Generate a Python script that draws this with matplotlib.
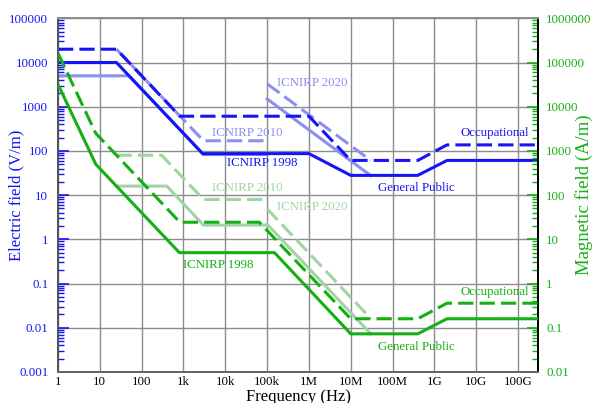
import matplotlib
matplotlib.use("Agg")
import matplotlib.pyplot as plt
from matplotlib.ticker import LogLocator, FixedLocator, FuncFormatter, NullFormatter

plt.rcParams['font.family'] = ['Liberation Serif', 'DejaVu Serif']

# ---------------- data (breakpoints) ----------------
x_ticks = [1, 10, 100, 1e3, 1e4, 1e5, 1e6, 1e7, 1e8, 1e9, 1e10, 1e11]
x_ticklabels = ["1", "10", "100", "1k", "10k", "100k", "1M", "10M", "100M", "1G", "10G", "100G"]

# Electric field (V/m), left axis
e1998_pub_f = [1, 25, 2870, 1e6, 1e7, 4e8, 2e9, 3e11]
e1998_pub_v = [10000, 10000, 87, 87, 28, 28, 61, 61]
e1998_occ_f = [1, 25, 820, 1e6, 1e7, 4e8, 2e9, 3e11]
e1998_occ_v = [20000, 20000, 610, 610, 61, 61, 137, 137]
e2010_pub_f = [1, 50, 3000, 1e5]
e2010_pub_v = [5000, 5000, 83, 83]
e2010_occ_f = [25, 3000, 1e5]
e2010_occ_v = [20000, 170, 170]
e2020_pub_f = [1e5, 3e7]
e2020_pub_v = [1500, 27.7]
e2020_occ_f = [1e5, 3e7]
e2020_occ_v = [3300, 61]

# Magnetic field (A/m), right axis
h1998_pub_f = [1, 8, 800, 1.5e5, 1e7, 4e8, 2e9, 3e11]
h1998_pub_v = [32000, 500, 5, 5, 0.073, 0.073, 0.16, 0.16]
h1998_occ_f = [1, 8, 820, 6.5e4, 1e7, 4e8, 2e9, 3e11]
h1998_occ_v = [163000, 2500, 24.4, 24.4, 0.16, 0.16, 0.36, 0.36]
h2010_pub_f = [25, 400, 3000, 1e5]
h2010_pub_v = [160, 160, 21, 21]
h2010_occ_f = [25, 300, 3000, 1e5]
h2010_occ_v = [800, 800, 80, 80]
h2020_pub_f = [1e5, 3e7]
h2020_pub_v = [22, 0.073]
h2020_occ_f = [1e5, 3e7]
h2020_occ_v = [49, 0.163]

# ---------------- styles ----------------
BLUE = '#1414f8'
LBLUE = '#8e8ef2'
GREEN = '#12b012'
LGREEN = '#a2d3a2'
LW = 2.2
DASH = (5, 2)

fig = plt.figure(figsize=(5.92, 4.03), dpi=100)
ax = fig.add_axes([58/592, 1-372/403, 480/592, (372-18.3)/403])
ax2 = ax.twinx()

ax.set_xscale('log')
ax.set_yscale('log')
ax2.set_yscale('log')
ax.set_xlim(1, 3e11)
ax.set_ylim(1e-3, 1e5)
ax2.set_ylim(1e-2, 1e6)

# grid
ax.xaxis.set_major_locator(FixedLocator(x_ticks))
ax.set_xticklabels(x_ticklabels)
ax.xaxis.set_minor_locator(FixedLocator([]))
ax.yaxis.set_major_locator(LogLocator(base=10, numticks=20))
ax.yaxis.set_minor_locator(LogLocator(base=10, subs=range(2, 10), numticks=20))
ax2.yaxis.set_major_locator(LogLocator(base=10, numticks=20))
ax2.yaxis.set_minor_locator(LogLocator(base=10, subs=range(2, 10), numticks=20))
ax.grid(True, which='major', color='#8c8c8c', lw=1.0)
ax.set_axisbelow(True)

def fmt(v, pos):
    if v >= 1:
        return f"{int(round(v))}"
    return f"{v:g}"

ax.yaxis.set_major_formatter(FuncFormatter(fmt))
ax.yaxis.set_minor_formatter(NullFormatter())
ax2.yaxis.set_major_formatter(FuncFormatter(fmt))
ax2.yaxis.set_minor_formatter(NullFormatter())

# lines: light (older/newer guidelines) first, underneath
ax.plot(e2010_pub_f, e2010_pub_v, color=LBLUE, lw=LW, zorder=2)
ax.plot(e2010_occ_f, e2010_occ_v, color=LBLUE, lw=LW, dashes=DASH, zorder=2)
ax.plot(e2020_pub_f, e2020_pub_v, color=LBLUE, lw=LW, zorder=2)
ax.plot(e2020_occ_f, e2020_occ_v, color=LBLUE, lw=LW, dashes=DASH, zorder=2)
ax.plot(e1998_pub_f, e1998_pub_v, color=BLUE, lw=LW, zorder=3)
ax.plot(e1998_occ_f, e1998_occ_v, color=BLUE, lw=LW, dashes=DASH, zorder=3)

ax2.plot(h2010_pub_f, h2010_pub_v, color=LGREEN, lw=LW, zorder=2)
ax2.plot(h2010_occ_f, h2010_occ_v, color=LGREEN, lw=LW, dashes=DASH, zorder=2)
ax2.plot(h2020_pub_f, h2020_pub_v, color=LGREEN, lw=LW, zorder=2)
ax2.plot(h2020_occ_f, h2020_occ_v, color=LGREEN, lw=LW, dashes=DASH, zorder=2)
ax2.plot(h1998_pub_f, h1998_pub_v, color=GREEN, lw=LW, zorder=3)
ax2.plot(h1998_occ_f, h1998_occ_v, color=GREEN, lw=LW, dashes=DASH, zorder=3)

# ticks
FS = 9.3
ax.tick_params(axis='x', which='both', length=0, pad=3, labelsize=FS, colors='black')
ax.tick_params(axis='y', which='major', direction='in', length=8, width=1.2, color=BLUE,
               labelcolor=BLUE, labelsize=FS, pad=7)
ax.tick_params(axis='y', which='minor', direction='in', length=4, width=1.0, color=BLUE)
ax2.tick_params(axis='y', which='major', direction='in', length=8, width=1.2, color=GREEN,
                labelcolor=GREEN, labelsize=FS, pad=6)
ax2.tick_params(axis='y', which='minor', direction='in', length=4, width=1.0, color=GREEN)

for a in (ax, ax2):
    a.spines['top'].set_color('#8c8c8c')
    a.spines['bottom'].set_color('#666666')
    a.spines['left'].set_color('#555555')
    a.spines['right'].set_color('black')
    for s in a.spines.values():
        s.set_linewidth(1.4)

# labels
ax.set_ylabel("Electric field (V/m)", color=BLUE, fontsize=12)
ax.yaxis.set_label_coords(-(58-24)/480, 0.5)
ax2.set_ylabel("Magnetic field (A/m)", color=GREEN, fontsize=13.5, rotation=90)
ax2.yaxis.set_label_coords((575-58)/480, 0.5)
fig.text(298/592, 2/403, "Frequency (Hz)", ha='center', va='baseline', fontsize=12)

# annotations
ax.text(1.76e5, 3420, "ICNIRP 2020", color=LBLUE, fontsize=FS, ha='left', va='center')
ax.text(4890, 253, "ICNIRP 2010", color=LBLUE, fontsize=FS, ha='left', va='center')
ax.text(11170, 53, "ICNIRP 1998", color=BLUE, fontsize=FS, ha='left', va='center')
ax.text(4.37e7, 14.6, "General Public", color=BLUE, fontsize=FS, ha='left', va='center')
ax.text(1.81e11, 257, "Occupational", color=BLUE, fontsize=FS, ha='right', va='center')
ax.text(4890, 14.6, "ICNIRP 2010", color=LGREEN, fontsize=FS, ha='left', va='center')
ax.text(1.76e5, 5.26, "ICNIRP 2020", color=LGREEN, fontsize=FS, ha='left', va='center')
ax.text(986, 0.27, "ICNIRP 1998", color=GREEN, fontsize=FS, ha='left', va='center')
ax.text(4.37e7, 0.00367, "General Public", color=GREEN, fontsize=FS, ha='left', va='center')
ax.text(1.81e11, 0.0646, "Occupational", color=GREEN, fontsize=FS, ha='right', va='center')

fig.savefig("out.png", dpi=100)
